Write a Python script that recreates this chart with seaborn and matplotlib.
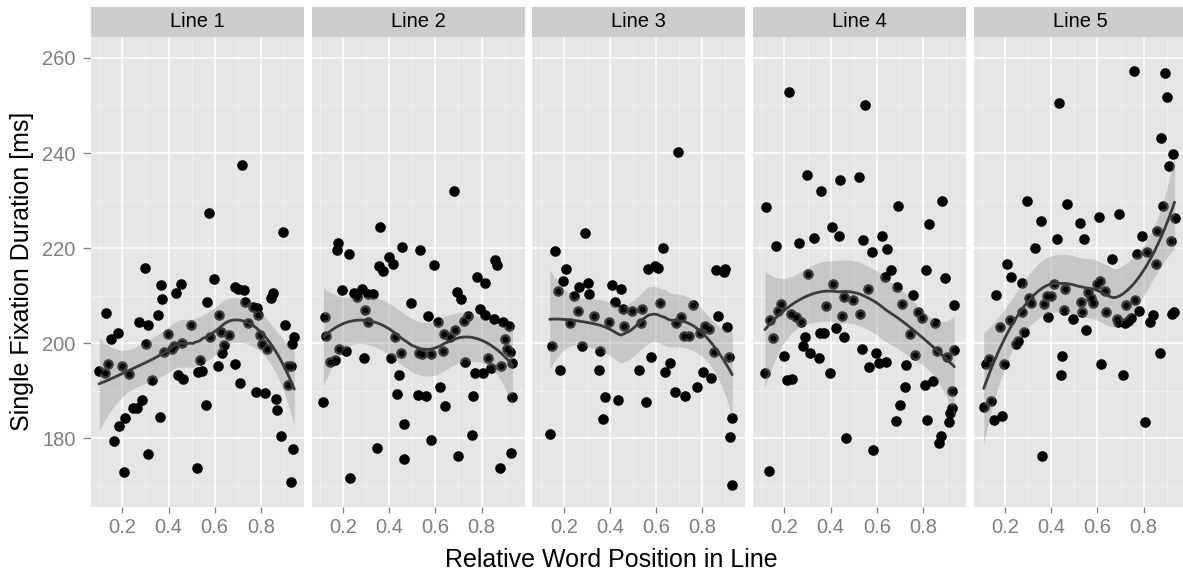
import numpy as np
import pandas as pd
import matplotlib
matplotlib.use("Agg")
import matplotlib.pyplot as plt
import seaborn as sns

# ---------------- data ----------------
line1_x = [0.099, 0.125, 0.130, 0.139, 0.151, 0.162, 0.180, 0.184, 0.199, 0.210, 0.209, 0.229, 0.246, 0.262,
           0.270, 0.283, 0.297, 0.309, 0.304, 0.313, 0.330, 0.355, 0.361, 0.367, 0.372, 0.381, 0.396, 0.416,
           0.423, 0.433, 0.441, 0.452, 0.458, 0.462, 0.496, 0.523, 0.529, 0.536, 0.543, 0.561, 0.568, 0.577,
           0.581, 0.597, 0.613, 0.620, 0.629, 0.633, 0.641, 0.664, 0.686, 0.687, 0.699, 0.710, 0.720, 0.726,
           0.730, 0.746, 0.765, 0.777, 0.784, 0.787, 0.796, 0.807, 0.816, 0.828, 0.842, 0.852, 0.864, 0.871,
           0.887, 0.896, 0.906, 0.916, 0.919, 0.930, 0.932, 0.936, 0.939, 0.945]
line1_y = [194.1, 193.7, 206.4, 195.5, 200.8, 179.3, 202.2, 182.5, 195.2, 184.2, 172.8, 193.5, 186.3, 186.3,
           204.5, 188.1, 215.8, 203.9, 199.7, 176.6, 192.2, 206.0, 184.5, 212.3, 209.3, 198.2, 202.0, 198.7,
           199.4, 210.6, 193.3, 212.5, 200.1, 192.5, 203.7, 173.8, 194.0, 196.5, 194.2, 186.9, 208.7, 227.4,
           201.2, 213.5, 195.1, 206.0, 202.4, 197.9, 199.5, 201.6, 195.6, 211.9, 211.4, 191.5, 237.4, 211.2,
           208.6, 204.3, 207.5, 189.8, 207.3, 206.0, 201.8, 199.8, 189.5, 198.8, 209.5, 210.6, 188.3, 186.0,
           180.4, 223.3, 203.7, 195.1, 191.2, 195.1, 170.8, 199.7, 177.8, 201.2]

line2_x = [0.122, 0.178, 0.172, 0.226, 0.196, 0.248, 0.262, 0.282, 0.294, 0.308, 0.330, 0.308, 0.360, 0.355,
           0.373, 0.398, 0.415, 0.457, 0.496, 0.534, 0.566, 0.596, 0.610, 0.681, 0.694, 0.709, 0.743, 0.725,
           0.780, 0.814, 0.794, 0.816, 0.852, 0.859, 0.868, 0.895, 0.918, 0.687,
           0.128, 0.142, 0.164, 0.183, 0.212, 0.290, 0.407, 0.424, 0.450, 0.441, 0.434, 0.115, 0.462, 0.349,
           0.232, 0.466, 0.527, 0.540, 0.579, 0.524, 0.558, 0.631, 0.638, 0.662, 0.619, 0.642, 0.583, 0.729,
           0.771, 0.807, 0.765, 0.759, 0.700, 0.827, 0.840, 0.884, 0.902, 0.911, 0.925, 0.933, 0.934, 0.928,
           0.878]
line2_y = [205.5, 221.0, 219.6, 218.7, 211.2, 210.5, 209.8, 211.4, 206.9, 210.4, 210.4, 204.4, 224.4, 216.3,
           215.1, 218.1, 216.6, 220.2, 208.4, 219.6, 205.7, 216.4, 204.5, 231.9, 210.7, 209.3, 205.7, 204.6,
           213.9, 212.6, 207.2, 205.9, 205.1, 217.5, 216.4, 204.4, 203.5, 202.8,
           201.4, 196.1, 196.5, 198.7, 198.4, 196.8, 196.8, 201.2, 197.9, 193.3, 189.2, 187.6, 182.9, 177.9,
           171.5, 175.6, 197.9, 197.7, 197.7, 189.0, 188.8, 198.4, 202.0, 201.3, 190.7, 186.7, 179.6, 196.0,
           193.7, 193.7, 188.8, 180.6, 176.3, 196.8, 194.7, 195.2, 200.9, 198.7, 198.1, 195.8, 188.6, 176.8,
           173.7]

line3_x = [0.693, 0.294, 0.162, 0.210, 0.197, 0.177, 0.245, 0.268, 0.304, 0.308, 0.262, 0.329, 0.411, 0.450,
           0.424, 0.456, 0.495, 0.538, 0.631, 0.566, 0.594, 0.610, 0.619, 0.762, 0.859, 0.899, 0.894, 0.709,
           0.868,
           0.226, 0.396, 0.461, 0.534, 0.688, 0.722, 0.742, 0.792, 0.811, 0.829, 0.909, 0.149, 0.281, 0.359,
           0.183, 0.352, 0.528, 0.577, 0.661, 0.638, 0.805, 0.840, 0.852, 0.918, 0.379, 0.434, 0.370, 0.558,
           0.681, 0.727, 0.779, 0.139, 0.927, 0.921, 0.930]
line3_y = [240.3, 223.1, 219.3, 215.6, 213.0, 210.9, 210.0, 211.8, 212.6, 210.3, 206.7, 205.7, 212.2, 211.4,
           208.6, 207.1, 206.8, 207.1, 220.0, 215.6, 216.3, 215.9, 208.4, 208.1, 215.4, 215.6, 214.9, 205.4,
           205.7,
           204.2, 204.4, 203.6, 204.3, 204.3, 201.4, 201.4, 202.2, 203.6, 202.9, 203.4, 199.3, 199.3, 198.4,
           194.3, 194.3, 194.3, 197.0, 195.9, 193.9, 193.9, 192.6, 198.2, 197.0, 188.6, 188.0, 184.0, 187.6,
           189.7, 188.8, 190.7, 180.8, 184.2, 180.3, 170.2]

line4_x = [0.219, 0.551, 0.297, 0.440, 0.525, 0.360, 0.122, 0.694, 0.884, 0.827, 0.408, 0.436, 0.330, 0.264,
           0.164, 0.541, 0.621, 0.579, 0.644, 0.662, 0.813, 0.894, 0.304, 0.634, 0.412, 0.688, 0.560,
           0.759, 0.460, 0.495, 0.381, 0.709, 0.936, 0.184, 0.170, 0.229, 0.249, 0.271, 0.138, 0.449, 0.528,
           0.779, 0.795, 0.852, 0.151, 0.291, 0.353, 0.373, 0.424, 0.459, 0.743, 0.282, 0.310, 0.350, 0.199,
           0.534, 0.596, 0.567, 0.610, 0.639, 0.764, 0.862, 0.904, 0.933, 0.726, 0.115, 0.398, 0.213, 0.232,
           0.722, 0.807, 0.842, 0.928, 0.701, 0.925, 0.918, 0.683, 0.819, 0.911, 0.878, 0.869, 0.466, 0.583,
           0.131]
line4_y = [252.9, 250.0, 235.3, 234.3, 234.9, 231.9, 228.6, 228.9, 229.9, 225.0, 224.4, 222.5, 222.1, 221.0,
           220.4, 221.6, 222.5, 219.1, 219.7, 215.3, 215.3, 213.6, 214.5, 214.0, 212.4, 211.9, 211.3,
           210.1, 209.7, 209.1, 207.8, 208.2, 208.0, 208.2, 206.8, 206.1, 205.4, 204.5, 204.8, 205.6, 206.1,
           206.6, 205.2, 204.2, 201.0, 201.2, 202.1, 202.1, 203.1, 201.2, 201.9, 199.3, 197.9, 196.9, 197.2,
           198.7, 197.9, 194.9, 195.8, 196.0, 197.4, 198.4, 197.0, 198.5, 195.3, 193.7, 193.7, 192.2, 192.4,
           190.7, 191.1, 192.0, 189.9, 186.9, 186.4, 185.2, 183.5, 183.8, 183.3, 180.5, 178.9, 180.0, 177.4,
           173.0]

line5_x = [0.759, 0.893, 0.902, 0.432, 0.876, 0.927, 0.911, 0.295, 0.466, 0.354, 0.525, 0.606, 0.694, 0.882,
           0.934, 0.425, 0.541, 0.328, 0.794, 0.860, 0.917, 0.771, 0.813, 0.661, 0.852, 0.210,
           0.227, 0.274, 0.162, 0.412, 0.460, 0.609, 0.597, 0.633, 0.558, 0.302, 0.311, 0.381, 0.399, 0.370,
           0.570, 0.580, 0.528, 0.722, 0.763, 0.272, 0.219, 0.178, 0.386, 0.457, 0.495, 0.534, 0.639, 0.683,
           0.691, 0.719, 0.732, 0.746, 0.779, 0.840, 0.828, 0.924, 0.931, 0.551, 0.282, 0.256, 0.246, 0.128,
           0.119, 0.196, 0.448, 0.617, 0.440, 0.709, 0.870, 0.139, 0.107, 0.152, 0.185, 0.807, 0.359]
line5_y = [257.3, 256.8, 251.7, 250.6, 243.1, 239.7, 237.2, 229.8, 229.2, 225.6, 225.2, 226.5, 227.1, 228.8,
           226.3, 221.8, 222.0, 220.1, 222.5, 223.5, 221.4, 218.8, 219.1, 217.6, 216.6, 216.6,
           213.9, 212.6, 210.1, 212.5, 211.3, 213.0, 212.5, 210.9, 210.7, 209.5, 208.4, 209.9, 209.9, 208.3,
           209.4, 208.5, 208.6, 208.1, 209.0, 206.5, 204.8, 203.3, 205.4, 207.0, 205.0, 206.5, 206.5, 205.0,
           204.5, 204.2, 204.7, 205.2, 206.7, 205.9, 204.4, 206.1, 206.6, 202.7, 202.3, 200.4, 199.7, 196.7,
           195.5, 195.5, 197.2, 195.5, 193.2, 193.2, 197.9, 187.9, 186.5, 183.9, 184.6, 183.3, 176.2]

panel_titles = ["Line 1", "Line 2", "Line 3", "Line 4", "Line 5"]
x_ticks = [0.2, 0.4, 0.6, 0.8]
x_tick_labels = ["0.2", "0.4", "0.6", "0.8"]
y_ticks = [180, 200, 220, 240, 260]
y_tick_labels = ["180", "200", "220", "240", "260"]
x_title = "Relative Word Position in Line"
y_title = "Single Fixation Duration [ms]"

frames = []
for t, xs, ys in zip(panel_titles, [line1_x, line2_x, line3_x, line4_x, line5_x],
                     [line1_y, line2_y, line3_y, line4_y, line5_y]):
    frames.append(pd.DataFrame({"pos": xs, "dur": ys, "line": t}))
df = pd.concat(frames, ignore_index=True)


# ---------------- loess (degree 2, span 0.75) with standard errors ----------------
def loess(x, y, grid, span=0.75):
    x = np.asarray(x, float)
    y = np.asarray(y, float)
    n = len(x)
    q = int(np.floor(n * span))

    def row(x0):
        d = np.abs(x - x0)
        h = np.sort(d)[q - 1]
        w = np.clip(1 - (d / h) ** 3, 0, None) ** 3
        X = np.column_stack([np.ones(n), x - x0, (x - x0) ** 2])
        XtW = X.T * w
        return np.linalg.solve(XtW @ X, XtW)[0]

    Lg = np.array([row(g) for g in grid])
    Ld = np.array([row(v) for v in x])
    fit = Lg @ y
    res = y - Ld @ y
    M = np.eye(n) - Ld
    MM = M.T @ M
    d1 = np.trace(MM)
    d2 = np.trace(MM @ MM)
    sigma = np.sqrt(res @ res / d1)
    se = sigma * np.sqrt((Lg ** 2).sum(axis=1))
    dof = d1 ** 2 / d2
    z = 1.959964
    tq = z + (z ** 3 + z) / (4 * dof)
    return fit, fit - tq * se, fit + tq * se


# ---------------- styling / layout ----------------
sns.set_style("white")
plt.rcParams["font.family"] = ["Liberation Sans", "DejaVu Sans"]

W, H = 1183, 575
fig = plt.figure(figsize=(W / 100, H / 100), dpi=100)

panel_left0 = 91
panel_step = 220.7
panel_w = 213
panel_top = 36.6
panel_bot = 507
strip_top = 7

xlim = (0.064, 0.987)
ylim = (165.5, 264.5)

bg = "#E5E5E5"
tick_grey = "#7F7F7F"

for k, title in enumerate(panel_titles):
    sub = df[df["line"] == title]
    left = panel_left0 + k * panel_step
    ax = fig.add_axes([left / W, (H - panel_bot) / H, panel_w / W, (panel_bot - panel_top) / H])
    ax.set_facecolor(bg)
    for s in ax.spines.values():
        s.set_visible(False)

    # grid lines
    for v in [0.1, 0.3, 0.5, 0.7, 0.9]:
        ax.axvline(v, color="#F2F2F2", lw=0.55, zorder=0.5)
    for v in [170, 190, 210, 230, 250]:
        ax.axhline(v, color="#F2F2F2", lw=0.55, zorder=0.5)
    for v in x_ticks:
        ax.axvline(v, color="white", lw=1.1, zorder=0.6)
    for v in y_ticks:
        ax.axhline(v, color="white", lw=1.1, zorder=0.6)

    sns.scatterplot(data=sub, x="pos", y="dur", ax=ax, color="black", s=58,
                    linewidth=0, zorder=2, legend=False)

    grid = np.linspace(sub["pos"].min(), sub["pos"].max(), 80)
    fit, lo, hi = loess(sub["pos"].values, sub["dur"].values, grid)
    ax.fill_between(grid, lo, hi, color="#999999", alpha=0.4, linewidth=0, zorder=3)
    # dark cores of the points seen through the ribbon
    sns.scatterplot(data=sub, x="pos", y="dur", ax=ax, color="black", s=18,
                    linewidth=0, zorder=3.5, legend=False)
    sns.lineplot(x=grid, y=fit, ax=ax, color="#3B3B3B", lw=2.0, zorder=4, sort=False)

    ax.set_xlim(*xlim)
    ax.set_ylim(*ylim)
    ax.set_xticks(x_ticks)
    ax.set_xticklabels(x_tick_labels)
    ax.set_yticks(y_ticks)
    ax.set_xlabel("")
    ax.set_ylabel("")
    ax.tick_params(axis="x", length=4, width=0.9, color=tick_grey, labelcolor=tick_grey,
                   labelsize=14.5, pad=4, direction="out", bottom=True)
    if k == 0:
        ax.set_yticklabels(y_tick_labels)
        ax.tick_params(axis="y", length=6, width=0.9, color=tick_grey, labelcolor=tick_grey,
                       labelsize=14.5, pad=5, direction="out", left=True)
    else:
        ax.tick_params(axis="y", left=False, labelleft=False)

    # strip
    sax = fig.add_axes([left / W, (H - panel_top) / H, panel_w / W, (panel_top - strip_top) / H])
    sax.set_facecolor("#CCCCCC")
    for s in sax.spines.values():
        s.set_visible(False)
    sax.set_xticks([])
    sax.set_yticks([])
    sax.text(0.5, 0.5, title, ha="center", va="center", fontsize=14.5, color="black",
             transform=sax.transAxes)

fig.text(611 / W, (H - 560) / H, x_title, ha="center", va="center", fontsize=18, color="black")
fig.text(22 / W, (H - (panel_top + panel_bot) / 2) / H, y_title, ha="center", va="center",
         rotation=90, fontsize=18, color="black")

fig.savefig("out.png", dpi=100)
